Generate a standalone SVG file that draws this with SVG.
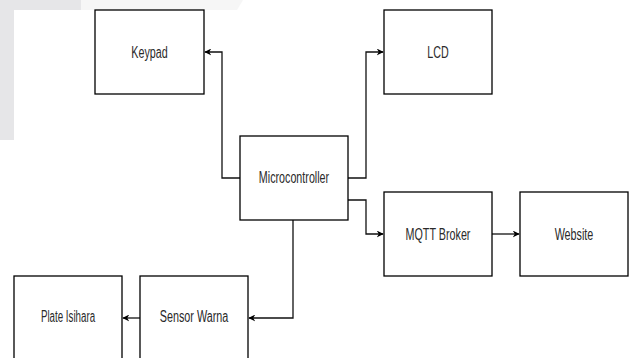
<svg xmlns="http://www.w3.org/2000/svg" width="634" height="358" viewBox="0 0 634 358">
<style>
.box{fill:#fff;stroke:#000;stroke-width:1.3}
.lbl{font-family:"Liberation Sans",Arial,sans-serif;font-size:16px;fill:#2a2a2a;text-anchor:middle}
.edge{fill:none;stroke:#111;stroke-width:1.3}
</style>
<defs>
<marker id="arr" viewBox="0 0 10 10" refX="9" refY="5" markerWidth="7" markerHeight="7" markerUnits="userSpaceOnUse" orient="auto">
<path d="M0,0 L10,5 L0,10 L3,5 Z" fill="#000"/>
</marker>
</defs>
<rect width="634" height="358" fill="#fff"/>
<g id="background">
<rect x="0" y="0" width="14" height="140" fill="#e6e6e8"/>
<rect x="0" y="0" width="81" height="10" fill="#e6e6e8"/>
<polygon points="81,0 243,0 237,10 81,10" fill="#f6f6f6"/>
</g>
<g id="connectors">
<path class="edge" d="M240,178 H222 V52 H205" marker-end="url(#arr)"/>
<path class="edge" d="M348,178 H366 V52 H383" marker-end="url(#arr)"/>
<path class="edge" d="M348,200 H366 V234 H383" marker-end="url(#arr)"/>
<path class="edge" d="M492,234 H519" marker-end="url(#arr)"/>
<path class="edge" d="M293,220 V318 H249" marker-end="url(#arr)"/>
<path class="edge" d="M140,318 H123" marker-end="url(#arr)"/>
</g>
<g id="keypad"><rect class="box" x="95" y="10" width="109" height="84"/><text class="lbl" x="149.5" y="58" textLength="36.4" lengthAdjust="spacingAndGlyphs">Keypad</text></g>
<g id="lcd"><rect class="box" x="384" y="10" width="108" height="84"/><text class="lbl" x="438" y="58" textLength="21.4" lengthAdjust="spacingAndGlyphs">LCD</text></g>
<g id="microcontroller"><rect class="box" x="240" y="136" width="108" height="84"/><text class="lbl" x="294" y="183" textLength="70.3" lengthAdjust="spacingAndGlyphs">Microcontroller</text></g>
<g id="mqtt"><rect class="box" x="384" y="192" width="108" height="84"/><text class="lbl" x="438" y="240" textLength="64.9" lengthAdjust="spacingAndGlyphs">MQTT Broker</text></g>
<g id="website"><rect class="box" x="520" y="192" width="108" height="84"/><text class="lbl" x="574" y="240" textLength="38.7" lengthAdjust="spacingAndGlyphs">Website</text></g>
<g id="sensor"><rect class="box" x="140" y="276" width="108" height="90"/><text class="lbl" x="194" y="322" textLength="68.5" lengthAdjust="spacingAndGlyphs">Sensor Warna</text></g>
<g id="plate"><rect class="box" x="14" y="276" width="108" height="90"/><text class="lbl" x="68" y="322" textLength="54.2" lengthAdjust="spacingAndGlyphs">Plate Isihara</text></g>
</svg>
